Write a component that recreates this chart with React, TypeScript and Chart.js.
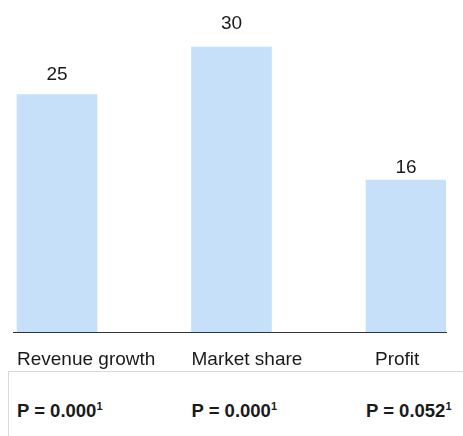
import React, { useEffect, useRef } from "react";
import { Chart, registerables } from "chart.js";

Chart.register(...registerables);

const categories = ["Revenue growth", "Market share", "Profit"];
const values = [25, 30, 16];
const pValues = ["0.000", "0.000", "0.052"];
const footnotes = ["1", "1", "1"];

const FONT = "'Liberation Sans', Arial, Helvetica, sans-serif";
const TEXT = "#1a1a1a";
const labelNudge = [0, 0, 9];
const labelLift = 1.082;

const labelPlugin = {
  id: "barLabels",
  afterDatasetsDraw(chart: any) {
    const ctx = chart.ctx;
    const meta = chart.getDatasetMeta(0);
    const yScale = chart.scales.y;
    const bottom = chart.chartArea.bottom;
    ctx.save();
    ctx.fillStyle = TEXT;
    ctx.font = `19px ${FONT}`;
    meta.data.forEach((el: any, i: number) => {
      ctx.textAlign = "center";
      ctx.textBaseline = "middle";
      ctx.fillText(String(values[i]), el.x, yScale.getPixelForValue(values[i] * labelLift));
      ctx.textAlign = "left";
      ctx.textBaseline = "alphabetic";
      ctx.fillText(categories[i], el.x - el.width / 2 + labelNudge[i], bottom + 33);
    });
    ctx.restore();
  },
};

export default function App() {
  const ref = useRef<HTMLCanvasElement | null>(null);
  useEffect(() => {
    if (!ref.current) return;
    const chart = new Chart(ref.current, {
      type: "bar",
      data: {
        datasets: [
          {
            data: values.map((v, i) => ({ x: i, y: v })),
            backgroundColor: "#c6e0f9",
            barThickness: 80,
            borderWidth: 0,
          },
        ],
      },
      options: {
        animation: false,
        responsive: false,
        devicePixelRatio: 1,
        layout: { padding: { left: 5, right: 9, top: 1, bottom: 39 } },
        plugins: { legend: { display: false }, tooltip: { enabled: false } },
        scales: {
          x: {
            type: "linear",
            offset: false,
            min: -0.2521,
            max: 2.2292,
            ticks: { display: false },
            grid: { display: false, drawTicks: false, offset: false },
            border: { display: true, color: "#333333", width: 1 },
          },
          y: { display: false, min: 0, max: 34 },
        },
      },
      plugins: [labelPlugin],
    });
    return () => chart.destroy();
  }, []);

  return (
    <div style={{ position: "fixed", left: 0, top: 0, width: "100vw", height: "100vh", overflow: "hidden", background: "#fff" }}>
      <div style={{ position: "absolute", left: 8, top: 8 }}>
        <canvas ref={ref} width={447} height={363} style={{ display: "block" }} />
      </div>
      <div
        style={{
          position: "absolute",
          left: 8,
          top: 371,
          width: 500,
          height: 100,
          borderTop: "1px solid #d9d9d9",
          borderLeft: "1px solid #d9d9d9",
          boxSizing: "border-box",
          fontFamily: FONT,
          color: TEXT,
          fontWeight: "bold",
          fontSize: "18.5px",
        }}
      >
        <div style={{ display: "flex", paddingLeft: 8, paddingTop: 28 }}>
          {pValues.map((p, i) => (
            <div key={i} style={{ width: 174.5, flex: "none", whiteSpace: "nowrap" }}>
              P = {p}
              <sup style={{ fontSize: "11px", lineHeight: 0 }}>{footnotes[i]}</sup>
            </div>
          ))}
        </div>
      </div>
    </div>
  );
}
